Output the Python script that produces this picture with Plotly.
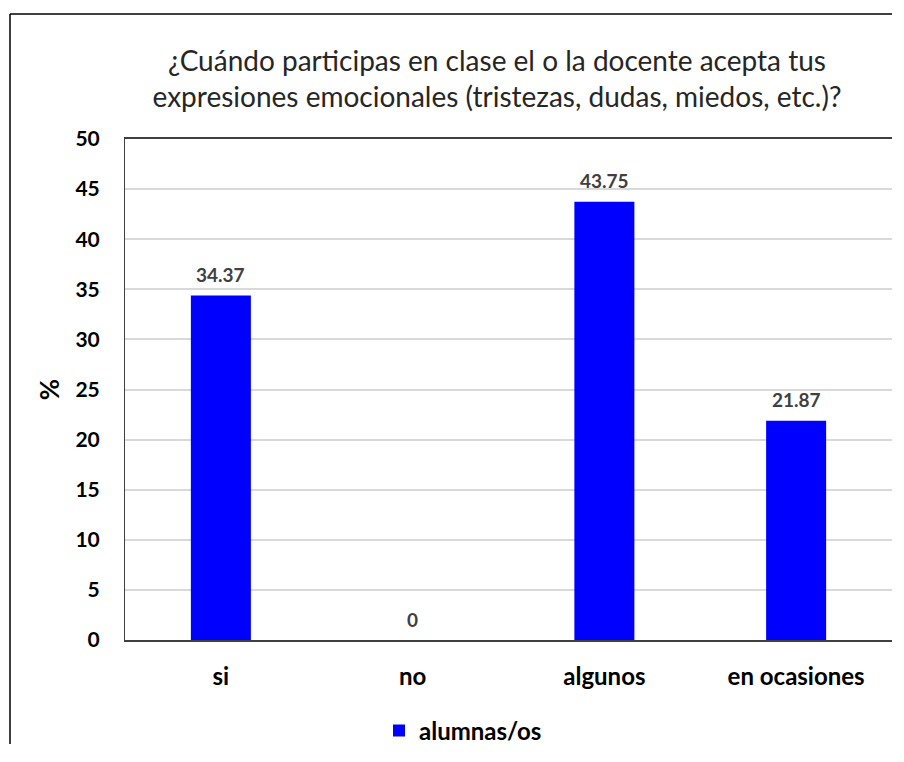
import plotly.graph_objects as go

categories = ["si", "no", "algunos", "en ocasiones"]
values = [34.37, 0, 43.75, 21.87]
value_labels = ["34.37", "0", "43.75", "21.87"]
series_name = "alumnas/os"
y_ticks = [0, 5, 10, 15, 20, 25, 30, 35, 40, 45, 50]

FONT = "Lato, Carlito, Calibri, sans-serif"
W, H = 884, 736
L, R, T, B = 117, 0, 131, 104
PW, PH = W - L - R, H - T - B

fig = go.Figure()
fig.add_trace(go.Bar(
    x=categories, y=values, name=series_name,
    marker=dict(color="#0000FF", line=dict(width=0)),
    width=0.313,
    showlegend=True,
))

for c, v, t in zip(categories, values, value_labels):
    fig.add_annotation(
        x=c, y=v, text=t, showarrow=False, yanchor="middle", yshift=21,
        font=dict(family=FONT, size=19, color="#404040", weight="bold"),
    )

frame_left = (2 - L) / PW
frame_top = (T + PH - 6) / PH

fig.update_layout(
    width=W, height=H,
    margin=dict(l=L, r=R, t=T, b=B, autoexpand=False),
    paper_bgcolor="white", plot_bgcolor="white",
    title=dict(
        text="¿Cuándo participas en clase el o la docente acepta tus<br>expresiones emocionales (tristezas, dudas, miedos, etc.)?",
        font=dict(family=FONT, size=28, color="#262626"),
        x=489 / W, xanchor="center", y=1 - 63 / H, yanchor="middle",
    ),
    xaxis=dict(
        showgrid=False, showline=True, linecolor="#404040", linewidth=1.5,
        mirror=True, ticks="", ticklabelstandoff=14, automargin=False,
        tickfont=dict(family=FONT, size=24, color="black", weight="bold"),
    ),
    yaxis=dict(
        range=[0, 50], tickvals=y_ticks, showgrid=True, gridcolor="#d9d9d9",
        gridwidth=1.5, showline=True, linecolor="#404040", linewidth=1,
        mirror=True, ticks="", ticklabelstandoff=20, zeroline=False, automargin=False,
        tickfont=dict(family=FONT, size=21, color="black", weight="bold"),
        title=dict(text="%", font=dict(family=FONT, size=26, color="black", weight="bold"), standoff=8),
    ),
    legend=dict(
        orientation="h", xref="container", yref="container",
        x=455 / W, xanchor="center", y=1 - 723 / H, yanchor="middle",
        font=dict(family=FONT, size=24, color="black", weight="bold"),
        itemwidth=30, itemsizing="constant",
    ),
    shapes=[
        dict(type="line", xref="paper", yref="paper",
             x0=frame_left, x1=2.0, y0=frame_top, y1=frame_top,
             line=dict(color="black", width=1.5), layer="below"),
        dict(type="line", xref="paper", yref="paper",
             x0=frame_left, x1=frame_left, y0=-1.0, y1=frame_top,
             line=dict(color="black", width=1.5), layer="below"),
    ],
)

fig.write_html("out.html")
